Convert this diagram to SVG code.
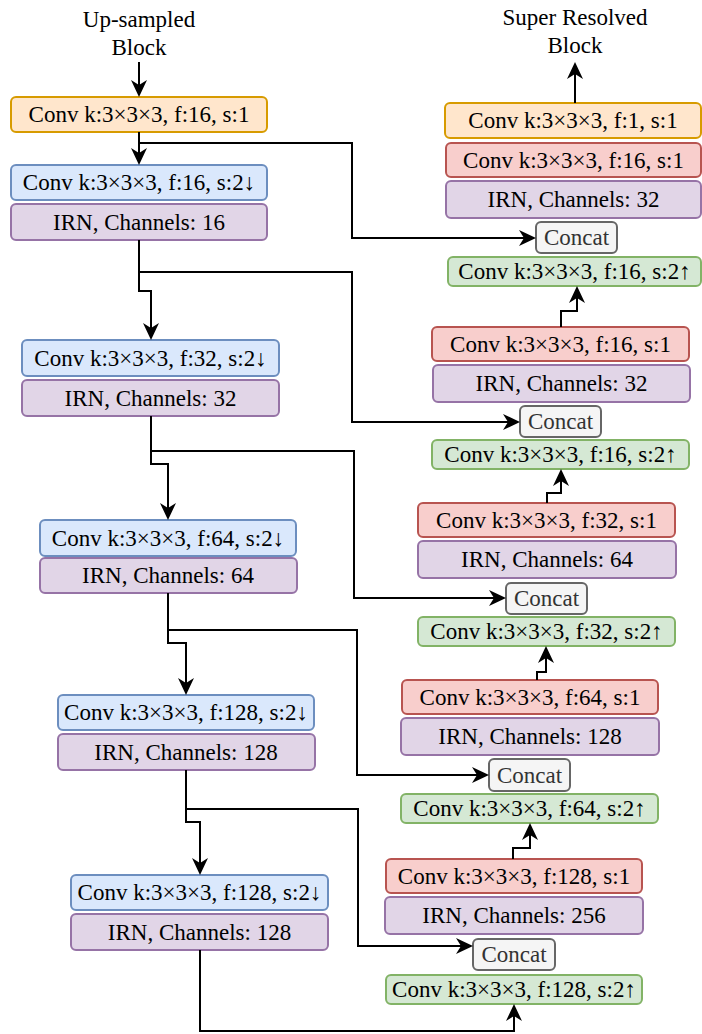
<svg xmlns="http://www.w3.org/2000/svg" width="702" height="1034" viewBox="0 0 702 1034">
  <style>
    rect { stroke-width: 2; }
    .orange { fill: #ffe6cc; stroke: #d79b00; }
    .blue { fill: #dae8fc; stroke: #6c8ebf; }
    .purple { fill: #e1d5e7; stroke: #9673a6; }
    .red { fill: #f8cecc; stroke: #b85450; }
    .green { fill: #d5e8d4; stroke: #82b366; }
    .gray { fill: #f5f5f5; stroke: #666666; }
    .wire { fill: none; stroke: #000000; stroke-width: 2; marker-end: url(#head); }
  </style>
  <defs>
    <marker id="head" markerUnits="userSpaceOnUse" markerWidth="20" markerHeight="20" viewBox="-8 -10 20 20" refX="0" refY="0" orient="auto">
      <path d="M10,0 L-7,-8 L-2,0 L-7,8 Z" fill="#000000"/>
    </marker>
  </defs>

  <g font-family="Liberation Serif" font-size="23" text-anchor="middle" fill="#000000">
  <!-- labels -->
  <g id="input-label">
    <text x="139" y="27">Up-sampled</text>
    <text x="139" y="55">Block</text>
  </g>
  <g id="output-label">
    <text x="575" y="25">Super Resolved</text>
    <text x="575" y="53">Block</text>
  </g>

  <!-- encoder -->
  <g id="enc-conv0"><rect class="orange" x="11" y="97" width="256" height="35" rx="5"/><text x="139" y="122">Conv k:3×3×3, f:16, s:1</text></g>
  <g id="enc-down1"><rect class="blue" x="11" y="165" width="256" height="35" rx="5"/><text x="139" y="190">Conv k:3×3×3, f:16, s:2↓</text></g>
  <g id="enc-irn1"><rect class="purple" x="11" y="204" width="256" height="36" rx="5"/><text x="139" y="230">IRN, Channels: 16</text></g>
  <g id="enc-down2"><rect class="blue" x="22" y="340" width="257" height="36" rx="5"/><text x="150.5" y="366">Conv k:3×3×3, f:32, s:2↓</text></g>
  <g id="enc-irn2"><rect class="purple" x="22" y="380" width="257" height="36" rx="5"/><text x="150.5" y="406">IRN, Channels: 32</text></g>
  <g id="enc-down3"><rect class="blue" x="40" y="520" width="256" height="36" rx="5"/><text x="168" y="546">Conv k:3×3×3, f:64, s:2↓</text></g>
  <g id="enc-irn3"><rect class="purple" x="40" y="558" width="257" height="35" rx="5"/><text x="168" y="583">IRN, Channels: 64</text></g>
  <g id="enc-down4"><rect class="blue" x="58" y="695" width="256" height="35" rx="5"/><text x="186" y="720">Conv k:3×3×3, f:128, s:2↓</text></g>
  <g id="enc-irn4"><rect class="purple" x="58" y="734" width="257" height="36" rx="5"/><text x="186" y="760">IRN, Channels: 128</text></g>
  <g id="enc-down5"><rect class="blue" x="71" y="875" width="257" height="35" rx="5"/><text x="199.5" y="900">Conv k:3×3×3, f:128, s:2↓</text></g>
  <g id="enc-irn5"><rect class="purple" x="71" y="914" width="257" height="36" rx="5"/><text x="199.5" y="940">IRN, Channels: 128</text></g>

  <!-- decoder -->
  <g id="dec-out"><rect class="orange" x="445" y="103" width="256" height="35" rx="5"/><text x="573" y="128">Conv k:3×3×3, f:1, s:1</text></g>
  <g id="dec-conv1"><rect class="red" x="446" y="143" width="255" height="34" rx="5"/><text x="573.5" y="168">Conv k:3×3×3, f:16, s:1</text></g>
  <g id="dec-irn1"><rect class="purple" x="446" y="181" width="255" height="37" rx="5"/><text x="573.5" y="207">IRN, Channels: 32</text></g>
  <g id="dec-cat1"><rect class="gray" x="536" y="222" width="81" height="31" rx="5"/><text fill="#333333" x="576.5" y="245">Concat</text></g>
  <g id="dec-up1"><rect class="green" x="448" y="257" width="253" height="29" rx="5"/><text x="574.5" y="279">Conv k:3×3×3, f:16, s:2↑</text></g>

  <g id="dec-conv2"><rect class="red" x="432" y="327" width="257" height="34" rx="5"/><text x="560.5" y="352">Conv k:3×3×3, f:16, s:1</text></g>
  <g id="dec-irn2"><rect class="purple" x="433" y="365" width="257" height="37" rx="5"/><text x="561.5" y="391">IRN, Channels: 32</text></g>
  <g id="dec-cat2"><rect class="gray" x="520" y="406" width="81" height="31" rx="5"/><text fill="#333333" x="560.5" y="429">Concat</text></g>
  <g id="dec-up2"><rect class="green" x="432" y="440" width="257" height="29" rx="5"/><text x="560.5" y="462">Conv k:3×3×3, f:16, s:2↑</text></g>

  <g id="dec-conv3"><rect class="red" x="418" y="503" width="257" height="34" rx="5"/><text x="546.5" y="528">Conv k:3×3×3, f:32, s:1</text></g>
  <g id="dec-irn3"><rect class="purple" x="418" y="541" width="258" height="37" rx="5"/><text x="547" y="567">IRN, Channels: 64</text></g>
  <g id="dec-cat3"><rect class="gray" x="506" y="583" width="81" height="31" rx="5"/><text fill="#333333" x="546.5" y="606">Concat</text></g>
  <g id="dec-up3"><rect class="green" x="418" y="617" width="257" height="29" rx="5"/><text x="546.5" y="639">Conv k:3×3×3, f:32, s:2↑</text></g>

  <g id="dec-conv4"><rect class="red" x="402" y="680" width="256" height="34" rx="5"/><text x="530" y="705">Conv k:3×3×3, f:64, s:1</text></g>
  <g id="dec-irn4"><rect class="purple" x="401" y="718" width="258" height="37" rx="5"/><text x="530" y="744">IRN, Channels: 128</text></g>
  <g id="dec-cat4"><rect class="gray" x="489" y="759" width="81" height="32" rx="5"/><text fill="#333333" x="529.5" y="783">Concat</text></g>
  <g id="dec-up4"><rect class="green" x="401" y="794" width="257" height="29" rx="5"/><text x="529.5" y="816">Conv k:3×3×3, f:64, s:2↑</text></g>

  <g id="dec-conv5"><rect class="red" x="386" y="859" width="256" height="34" rx="5"/><text x="514" y="884">Conv k:3×3×3, f:128, s:1</text></g>
  <g id="dec-irn5"><rect class="purple" x="385" y="897" width="258" height="37" rx="5"/><text x="514" y="923">IRN, Channels: 256</text></g>
  <g id="dec-cat5"><rect class="gray" x="473" y="939" width="82" height="31" rx="5"/><text fill="#333333" x="514" y="962">Concat</text></g>
  <g id="dec-up5"><rect class="green" x="386" y="975" width="256" height="29" rx="5"/><text x="514" y="997">Conv k:3×3×3, f:128, s:2↑</text></g>
  </g>

  <!-- connectors: skip links run right to the Concat nodes, main path jogs down -->
  <g id="connectors">
    <path class="wire" d="M139,62 V87"/>
    <path class="wire" d="M139,132 V155"/>
    <path class="wire" d="M139,143 H352 V238 H526"/>

    <path class="wire" d="M139,240 V291 H151 V330"/>
    <path class="wire" d="M139,272 H352 V422 H510"/>

    <path class="wire" d="M151,416 V464 H168 V510"/>
    <path class="wire" d="M151,451 H354 V598 H496"/>

    <path class="wire" d="M168,593 V643 H186 V685"/>
    <path class="wire" d="M168,630 H357 V775 H479"/>

    <path class="wire" d="M186,770 V822 H200 V865"/>
    <path class="wire" d="M186,809 H358 V946 H463"/>

    <path class="wire" d="M200,950 V1031 H514 V1014"/>

    <path class="wire" d="M513,859 V848 H530 V833"/>
    <path class="wire" d="M537,680 V672 H546 V656"/>
    <path class="wire" d="M547,503 V493 H561 V479"/>
    <path class="wire" d="M561,327 V311 H577 V296"/>
    <path class="wire" d="M575,103 V72"/>
  </g>
</svg>
